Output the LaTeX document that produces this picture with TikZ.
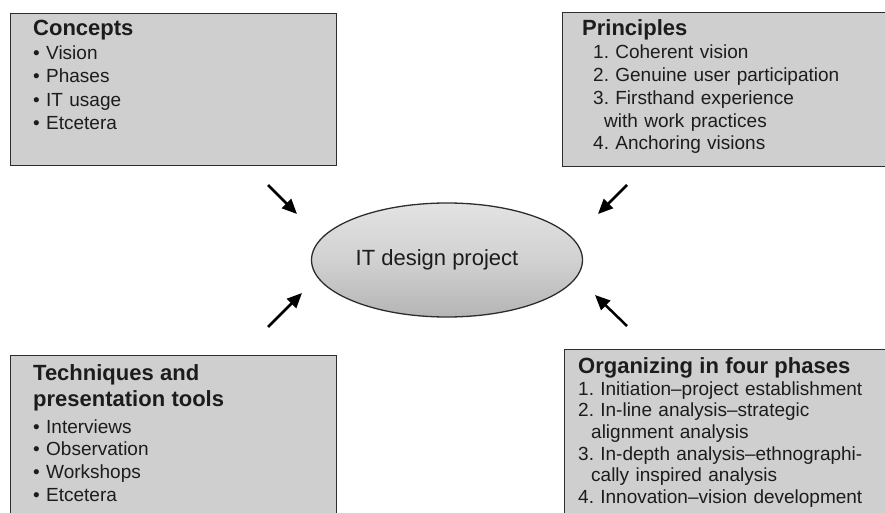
\documentclass[tikz,border=0pt]{standalone}
\usepackage{fontspec}
\setmainfont{Liberation Sans}
\usetikzlibrary{shapes.geometric,arrows.meta}
\frenchspacing
\definecolor{boxgray}{RGB}{207,207,207}
\definecolor{edgegray}{RGB}{45,45,45}
\definecolor{inkgray}{RGB}{28,28,28}
\tikzset{
  infobox/.style={draw=edgegray, line width=1.3pt, fill=boxgray, rectangle, inner sep=0pt, anchor=north west},
  listtext/.style={text=inkgray, inner sep=0pt, anchor=base west, align=left, text width=320pt},
  pointer/.style={line width=2.5pt, draw=black, -{Triangle[length=15pt,width=13pt]}}
}
\newcommand{\boxhead}[1]{{\bfseries\fontsize{22}{23}\selectfont #1}}
\begin{document}
\begin{tikzpicture}[x=1pt, y=-1pt]
      \useasboundingbox (0,0) rectangle (885,513);
      \clip (0,0) rectangle (885,513);
      \node[infobox, minimum width=326pt, minimum height=152pt] (concepts) at (10,13) {};
      \node[infobox, minimum width=340pt, minimum height=154pt] (principles) at (562,12) {};
      \node[infobox, minimum width=326pt, minimum height=180pt] (techniques) at (10,355) {};
      \node[infobox, minimum width=340pt, minimum height=190pt] (phases) at (564,349) {};
      \node[listtext, font=\fontsize{19}{23.5}\selectfont] (conceptsList) at ([shift={(23,23)}]concepts.north west)
      {\boxhead{Concepts}\\ •~Vision\\ •~Phases\\ •~IT usage\\ •~Etcetera};
      \node[listtext, font=\fontsize{19}{22.8}\selectfont] (principlesList) at ([shift={(20,24)}]principles.north west)
      {\boxhead{Principles}\\ \hspace*{11pt}1. Coherent vision\\ \hspace*{11pt}2. Genuine user participation\\
      \hspace*{11pt}3. Firsthand experience\\ \hspace*{22pt}with work practices\\ \hspace*{11pt}4. Anchoring visions};
      \node[listtext, font=\fontsize{19}{22.7}\selectfont] (techniquesList) at ([shift={(23,25)}]techniques.north west)
      {\boxhead{Techniques and}\\[3.3pt] \boxhead{presentation tools}\\[4.3pt] •~Interviews\\ •~Observation\\ •~Workshops\\ •~Etcetera};
      \node[listtext, font=\fontsize{19}{21.7}\selectfont] (phasesList) at ([shift={(14,24)}]phases.north west)
      {\boxhead{Organizing in four phases}\\[0.3pt] 1. Initiation–project establishment\\ 2. In-line analysis–strategic\\
      \hspace*{13pt}alignment analysis\\ 3. In-depth analysis–ethnographi-\\ \hspace*{13pt}cally inspired analysis\\
      4. Innovation–vision development};
      \node[ellipse, draw=edgegray, line width=1.3pt, top color=gray!22, bottom color=gray!58, middle color=gray!36,
      minimum width=271pt, minimum height=114pt, inner sep=0pt, text=inkgray, font=\fontsize{22}{26}\selectfont]
      (project) at (447,260) {IT design project\hspace*{20pt}};
      \coordinate (nwTail) at (268,185);
      \coordinate (nwTip) at (297,214);
      \coordinate (neTail) at (627,185);
      \coordinate (neTip) at (598,214);
      \coordinate (swTail) at (268,327);
      \coordinate (swTip) at (302,293);
      \coordinate (seTail) at (627,326);
      \coordinate (seTip) at (595,295);
      \draw[pointer] (nwTail) -- (nwTip);
      \draw[pointer] (neTail) -- (neTip);
      \draw[pointer] (swTail) -- (swTip);
      \draw[pointer] (seTail) -- (seTip);
\end{tikzpicture}
\end{document}
